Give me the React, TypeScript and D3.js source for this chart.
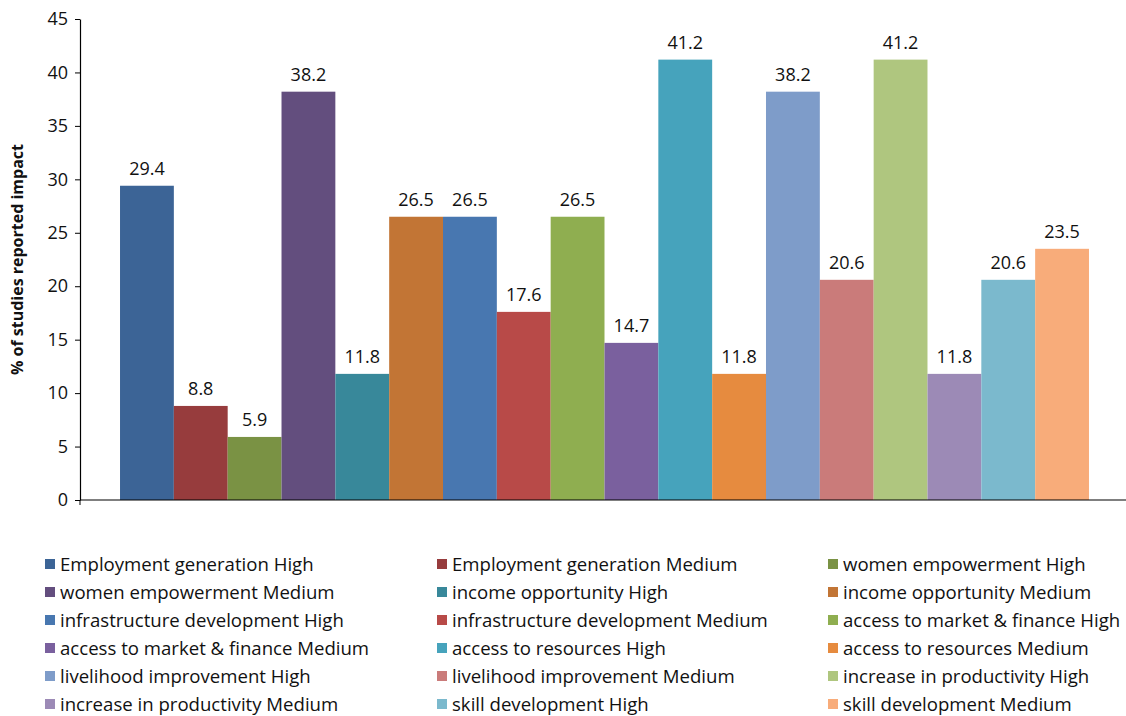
import * as d3 from 'd3';
import React, { useEffect, useRef } from 'react';

const impacts = [
  'Employment generation', 'women empowerment', 'income opportunity',
  'infrastructure development', 'access to market & finance', 'access to resources',
  'livelihood improvement', 'increase in productivity', 'skill development',
];
const levels = ['High', 'Medium'];

// one value per series, in series order (impact x level)
const values = [29.4, 8.8, 5.9, 38.2, 11.8, 26.5, 26.5, 17.6, 26.5, 14.7, 41.2, 11.8, 38.2, 20.6, 41.2, 11.8, 20.6, 23.5];

const colors = [
  '#3c6496', '#973c3d', '#7a9244', '#634e7e', '#38889a', '#c27535',
  '#4877b0', '#b84a48', '#8fae50', '#7a609e', '#46a3bc', '#e68b3f',
  '#7e9cc9', '#ca7b7a', '#afc67f', '#9c8ab6', '#7bb9cd', '#f8ac7a',
];

const yTicks = [0, 5, 10, 15, 20, 25, 30, 35, 40, 45];

const seriesNames = impacts.flatMap(i => levels.map(l => `${i} ${l}`));

const App: React.FC = () => {
  const svgRef = useRef<SVGSVGElement>(null);

  useEffect(() => {
    if (!svgRef.current) return;
    const svg = d3.select(svgRef.current);
    svg.selectAll('*').remove();

    const font = '"Open Sans", "Noto Sans", sans-serif';
    const y = d3.scaleLinear().domain([0, 45]).range([500, 19]);

    const x0 = d3.scaleBand<string>()
      .domain(['all'])
      .range([80, 1129])
      .paddingOuter(0.0413);
    const x = d3.scaleBand<string>()
      .domain(seriesNames)
      .range([x0('all')!, x0('all')! + x0.bandwidth()]);

    // y axis
    const yAxis = svg.append('g')
      .attr('transform', 'translate(80,0)')
      .call(d3.axisLeft(y).tickValues(yTicks).tickSize(5).tickSizeOuter(0));
    yAxis.select('.domain').attr('stroke', '#000').attr('stroke-width', 1.2);
    yAxis.selectAll('line').attr('stroke', '#000');
    yAxis.selectAll('text')
      .attr('font-family', font)
      .attr('font-size', 18)
      .attr('fill', '#111')
      .attr('x', -12);
    yAxis.append('line')
      .attr('x1', 0).attr('x2', 0)
      .attr('y1', y(0)).attr('y2', y(0) + 5)
      .attr('stroke', '#000');

    svg.append('text')
      .attr('transform', `translate(23,${(y(0) + y(45)) / 2}) rotate(-90)`)
      .attr('text-anchor', 'middle')
      .attr('font-family', font)
      .attr('font-size', 16)
      .attr('font-weight', 'bold')
      .attr('fill', '#111')
      .text('% of studies reported impact');

    // bars
    svg.append('g').selectAll('rect')
      .data(values)
      .join('rect')
      .attr('x', (_, i) => x(seriesNames[i])!)
      .attr('y', d => y(d))
      .attr('width', x.bandwidth())
      .attr('height', d => y(0) - y(d))
      .attr('fill', (_, i) => colors[i]);

    svg.append('g').selectAll('text')
      .data(values)
      .join('text')
      .attr('x', (_, i) => x(seriesNames[i])! + x.bandwidth() / 2)
      .attr('y', d => y(d) - 11)
      .attr('text-anchor', 'middle')
      .attr('font-family', font)
      .attr('font-size', 18)
      .attr('fill', '#111')
      .text(d => d.toFixed(1));

    // x axis line
    svg.append('line')
      .attr('x1', 80).attr('x2', 1126)
      .attr('y1', y(0)).attr('y2', y(0))
      .attr('stroke', '#000')
      .attr('stroke-width', 1.2);

    // legend
    const colX = [45, 437, 828];
    const legend = svg.append('g').selectAll('g')
      .data(seriesNames)
      .join('g')
      .attr('transform', (_, i) => `translate(${colX[i % 3]},${564 + Math.floor(i / 3) * 28})`);
    legend.append('rect')
      .attr('x', 0).attr('y', -5)
      .attr('width', 10).attr('height', 10)
      .attr('fill', (_, i) => colors[i]);
    legend.append('text')
      .attr('x', 15)
      .attr('y', 0)
      .attr('dy', '0.35em')
      .attr('font-family', font)
      .attr('font-size', 18.6)
      .attr('fill', '#111')
      .text(d => d);
  }, []);

  return (
    <svg
      ref={svgRef}
      width={1126}
      height={716}
      style={{ position: 'absolute', left: 0, top: 0, display: 'block' }}
    />
  );
};

export default App;
